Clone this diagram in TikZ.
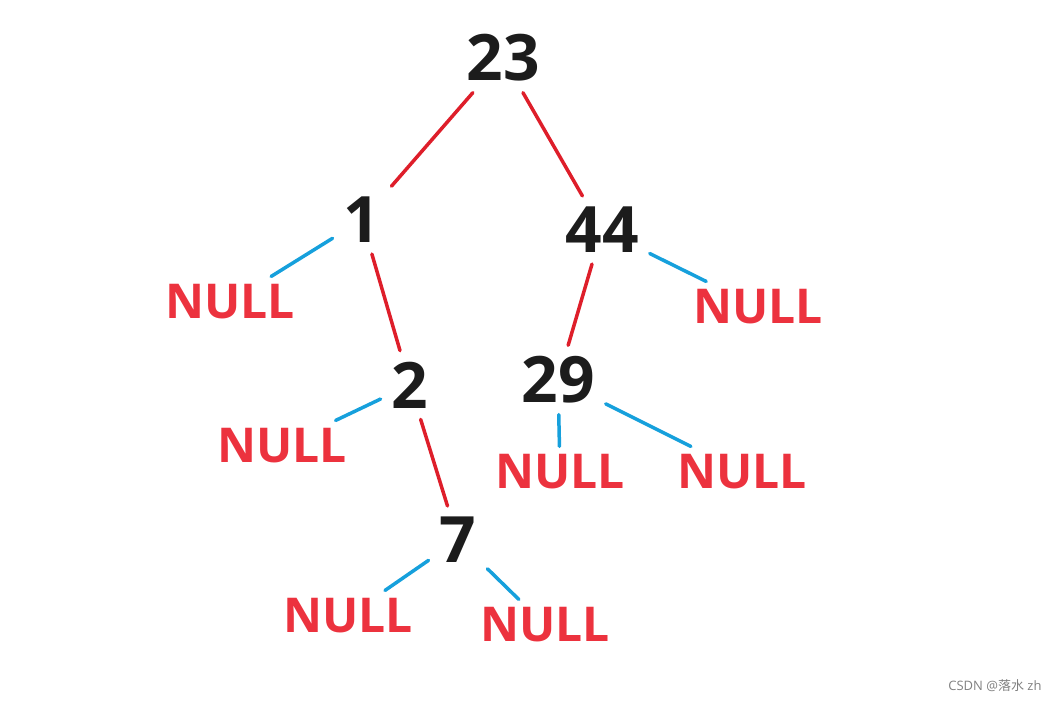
\documentclass[tikz,border=0pt]{standalone}
\usepackage{fontspec}
\setmainfont{Open Sans}
\newfontfamily\cjk{Noto Sans CJK SC}
\definecolor{edgered}{RGB}{222,30,42}
\definecolor{nullred}{RGB}{236,50,62}
\definecolor{edgeblue}{RGB}{22,160,220}
\definecolor{keyblack}{RGB}{28,28,28}
\begin{document}
\begin{tikzpicture}[x=1pt, y=-1pt, line cap=round,
                keynode/.style={text=keyblack, font=\fontsize{64}{64}\selectfont\bfseries, inner sep=11pt},
                nullnode/.style={text=nullred, font=\fontsize{48}{48}\selectfont\bfseries, inner sep=8pt},
                rededge/.style={draw=edgered, line width=3.5pt},
                blueedge/.style={draw=edgeblue, line width=3.5pt}]
            % Frame
            \useasboundingbox (0,0) rectangle (1059,703);
            % Keys
            \node[keynode] (k23) at (503,58) {23};
            \node[keynode] (k1) at (362,220) {1};
            \node[keynode] (k44) at (602,230) {44};
            \node[keynode] (k2) at (410,385) {2};
            \node[keynode] (k29) at (558,380) {29};
            \node[keynode] (k7) at (458,540) {7};
            % Empty children
            \node[nullnode] (n1) at (230,302) {NULL};
            \node[nullnode] (n44) at (758,307) {NULL};
            \node[nullnode] (n2) at (282,446) {NULL};
            \node[nullnode] (n29l) at (560,472) {NULL};
            \node[nullnode] (n29r) at (742,472) {NULL};
            \node[nullnode] (n7l) at (348,616) {NULL};
            \node[nullnode] (n7r) at (545,625) {NULL};
            % Edges
            \draw[rededge] (k23) -- (k1);
            \draw[rededge] (k23) -- (k44);
            \draw[rededge] (k1) -- (k2);
            \draw[rededge] (k44) -- (k29);
            \draw[rededge] (k2) -- (k7);
            \draw[blueedge] (k1) -- (n1);
            \draw[blueedge] (k44) -- (n44);
            \draw[blueedge] (k2) -- (n2);
            \draw[blueedge] (k29) -- (n29l);
            \draw[blueedge] (k29) -- (n29r);
            \draw[blueedge] (k7) -- (n7l);
            \draw[blueedge] (k7) -- (n7r);
            % Mark
            \node[text=gray, font=\fontsize{13}{13}\selectfont, anchor=east] (mark) at (1045,686) {CSDN @{\cjk 落水} zh};
\end{tikzpicture}
\end{document}
